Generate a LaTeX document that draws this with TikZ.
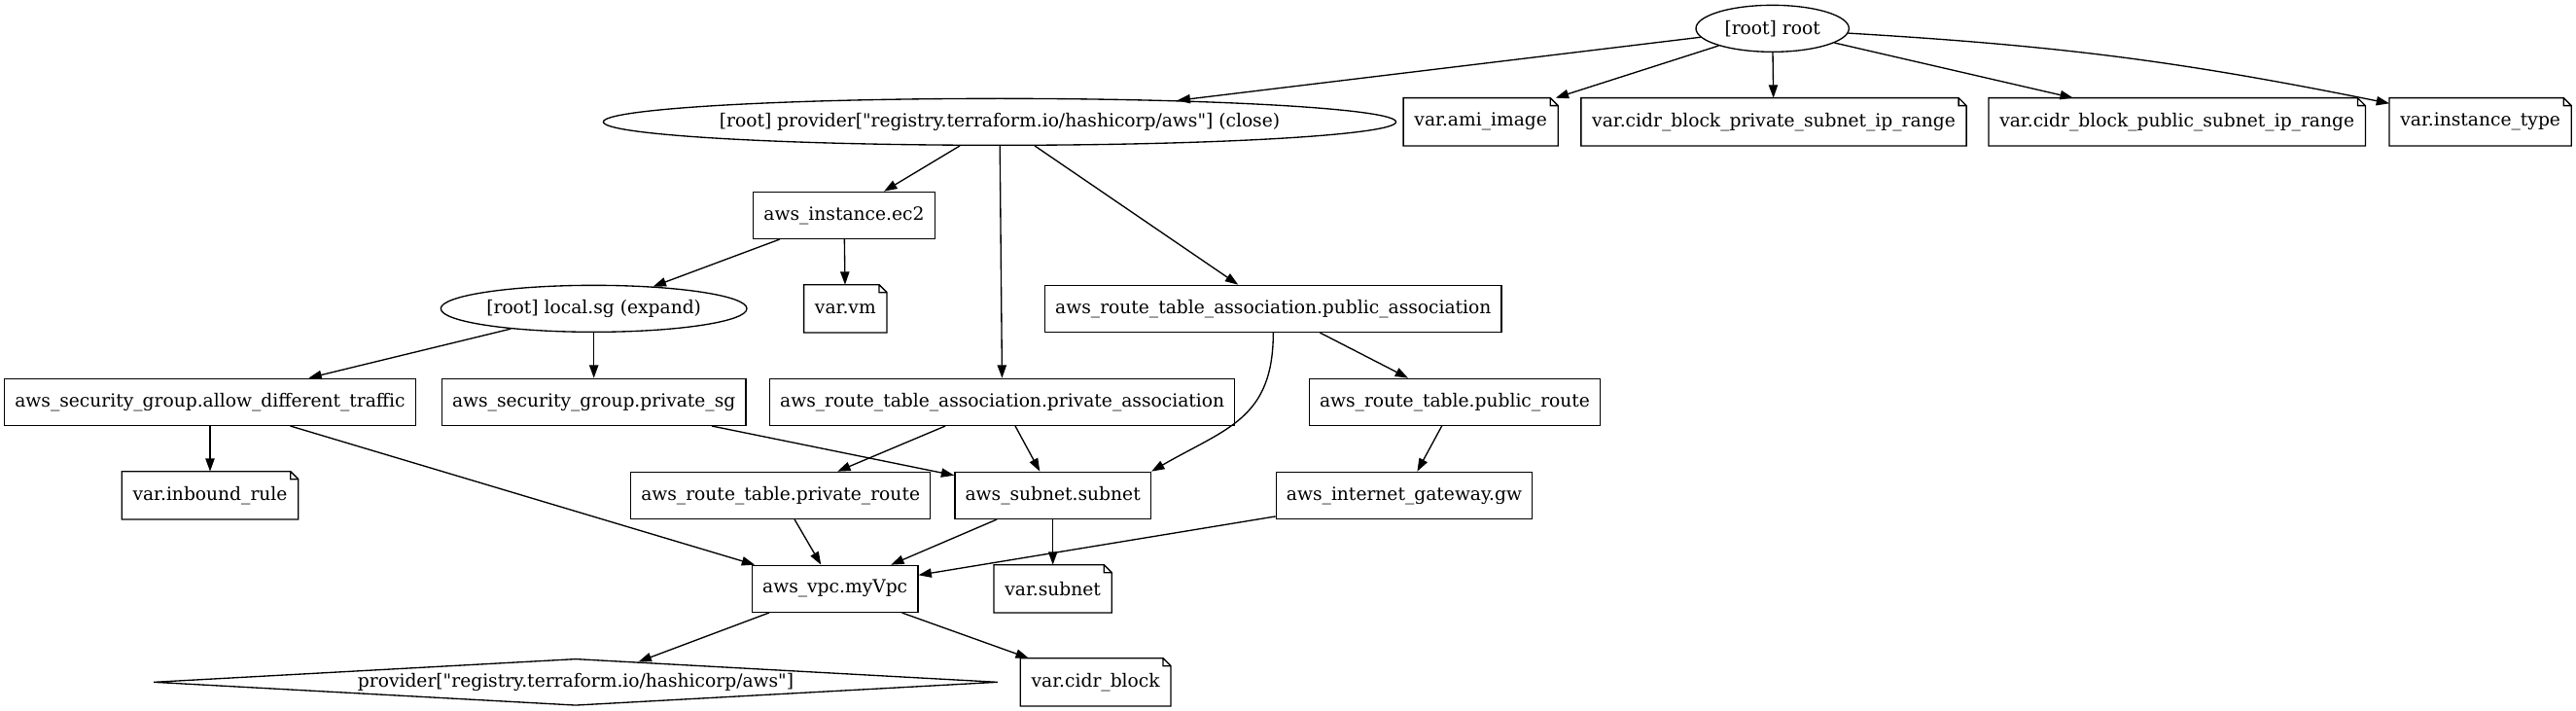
\documentclass[tikz,border=0pt]{standalone}
\usepackage{fontspec}
\setmainfont{DejaVu Serif}
\usetikzlibrary{arrows.meta, shapes.geometric}

\begin{document}
\begin{tikzpicture}[x=1pt, y=1pt,
    every node/.style={font=\fontsize{14}{16}\selectfont, line width=1pt},
    resbox/.style={draw, rectangle, minimum height=36pt, minimum width=54pt, inner xsep=8pt},
    notebox/.style={rectangle, minimum height=36pt, minimum width=54pt, inner xsep=8pt},
    rootell/.style={draw, ellipse, minimum height=36pt, inner sep=0pt},
    provdiamond/.style={draw, diamond, aspect=18, inner sep=0pt, minimum width=651pt, minimum height=36pt},
    dep/.style={-{Triangle[length=10pt, width=7pt]}, line width=1pt}]
    \useasboundingbox (0,0) rectangle (1986.75,-548.25);

    % Root and variables
    \node[rootell, minimum width=118pt] (root) at (1367,-22) {[root] root};
    \node[rootell, minimum width=581pt] (provclose) at (771,-94) {[root] provider[\textquotedbl registry.terraform.io/hashicorp/aws\textquotedbl] (close)};
    \node[notebox] (amiimage) at (1142,-94) {var.ami\_image};
    \node[notebox] (cidrpriv) at (1368,-94) {var.cidr\_block\_private\_subnet\_ip\_range};
    \node[notebox] (cidrpub) at (1679,-94) {var.cidr\_block\_public\_subnet\_ip\_range};
    \node[notebox] (insttype) at (1913,-94) {var.instance\_type};

    % Resources
    \node[resbox] (ec2) at (651,-166) {aws\_instance.ec2};
    \node[rootell, minimum width=236pt] (localsg) at (458,-238) {[root] local.sg (expand)};
    \node[notebox] (varvm) at (652,-238) {var.vm};
    \node[resbox] (pubassoc) at (982,-238) {aws\_route\_table\_association.public\_association};
    \node[resbox] (allowtraffic) at (162,-310) {aws\_security\_group.allow\_different\_traffic};
    \node[resbox] (privatesg) at (458,-310) {aws\_security\_group.private\_sg};
    \node[resbox] (privassoc) at (773,-310) {aws\_route\_table\_association.private\_association};
    \node[resbox] (pubroute) at (1122,-310) {aws\_route\_table.public\_route};
    \node[notebox] (inboundrule) at (162,-382) {var.inbound\_rule};
    \node[resbox] (privroute) at (602,-382) {aws\_route\_table.private\_route};
    \node[resbox] (subnet) at (812,-382) {aws\_subnet.subnet};
    \node[resbox] (igw) at (1083,-382) {aws\_internet\_gateway.gw};
    \node[resbox] (myvpc) at (644,-454) {aws\_vpc.myVpc};
    \node[notebox] (varsubnet) at (812,-454) {var.subnet};
    \node[provdiamond] (awsprovider) at (444,-526) {provider[\textquotedbl registry.terraform.io/hashicorp/aws\textquotedbl]};
    \node[notebox] (cidrblock) at (845,-526) {var.cidr\_block};

    % Note outlines with folded corner
    \foreach \n in {amiimage, cidrpriv, cidrpub, insttype, varvm, inboundrule, varsubnet, cidrblock}
        \draw[line width=1pt] (\n.north west) -- ([xshift=-6pt]\n.north east) -- ([yshift=-6pt]\n.north east)
            -- (\n.south east) -- (\n.south west) -- cycle
            ([xshift=-6pt]\n.north east) -- ([shift={(-6pt,-6pt)}]\n.north east) -- ([yshift=-6pt]\n.north east);

    % Edges
    \draw[dep] (root) -- (provclose);
    \draw[dep] (root) -- (amiimage);
    \draw[dep] (root) -- (cidrpriv);
    \draw[dep] (root) -- (cidrpub);
    \draw[dep] (root) to[bend left=4] (insttype);
    \draw[dep] (provclose) -- (ec2);
    \draw[dep] (provclose) -- (privassoc);
    \draw[dep] (provclose) -- (pubassoc);
    \draw[dep] (ec2) -- (localsg);
    \draw[dep] (ec2) -- (varvm);
    \draw[dep] (localsg) -- (allowtraffic);
    \draw[dep] (localsg) -- (privatesg);
    \draw[dep] (allowtraffic) -- (inboundrule);
    \draw[dep] (allowtraffic) -- (myvpc);
    \draw[dep] (privatesg) -- (subnet);
    \draw[dep] (privassoc) -- (privroute);
    \draw[dep] (privassoc) -- (subnet);
    \draw[dep] (pubassoc.south) to[out=-90, in=30, looseness=1.2] (subnet.north east);
    \draw[dep] (pubassoc) -- (pubroute);
    \draw[dep] (pubroute) -- (igw);
    \draw[dep] (privroute) -- (myvpc);
    \draw[dep] (subnet) -- (myvpc);
    \draw[dep] (subnet) -- (varsubnet);
    \draw[dep] (igw) -- (myvpc);
    \draw[dep] (myvpc.200) -- (awsprovider.18);
    \draw[dep] (myvpc) -- (cidrblock);
\end{tikzpicture}
\end{document}
